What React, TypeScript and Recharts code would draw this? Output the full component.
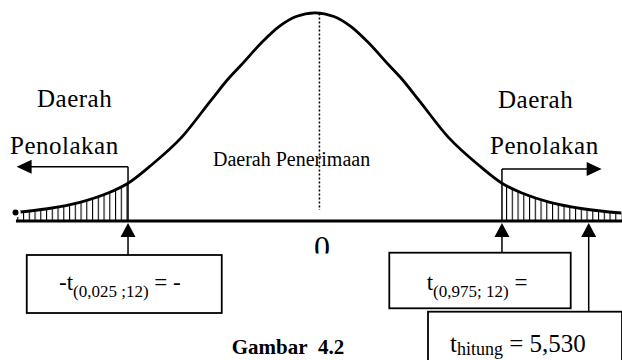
import React from 'react'
import { ComposedChart, Line, Area, XAxis, YAxis, ReferenceLine, ReferenceDot } from 'recharts'

// t position (0 = centre) and curve height
const tValues = [
  -3.49, -3.12, -2.74, -2.42, -2.179, -1.93, -1.55, -1.21, -1.0, -0.86, -0.61, -0.42, -0.22, 0,
  0.22, 0.42, 0.61, 0.86, 1.0, 1.21, 1.55, 1.93, 2.179, 2.42, 2.74, 3.12, 3.57,
]
const density = [
  0.016, 0.023, 0.035, 0.052, 0.071, 0.102, 0.158, 0.227, 0.269, 0.293, 0.337, 0.365, 0.384, 0.391,
  0.384, 0.365, 0.337, 0.293, 0.269, 0.227, 0.158, 0.102, 0.071, 0.052, 0.035, 0.023, 0.015,
]

const tCritical = [-2.179, 2.179] // -t(0,025;12) and t(0,975;12)
const tHitungMark = 3.19 // where the figure draws t hitung (not to scale)
const centreMark = 0.052
const axisEnds = [-3.485, 3.578]

const X_DOMAIN: [number, number] = [-3.671, 3.578]
const Y_DOMAIN: [number, number] = [-0.261, 0.415]

const rows = tValues.map((t, i) => ({
  t,
  density: density[i],
  tail: Math.abs(t) >= tCritical[1] ? density[i] : null,
}))

const serif = '"Liberation Serif", "Times New Roman", Times, serif'

type Dir = 'up' | 'left' | 'right'
const arrowHead = (dir: Dir) => (p: any) => {
  const { cx, cy } = p
  let d = ''
  if (dir === 'up') d = `M${cx},${cy} L${cx - 7.5},${cy + 14} L${cx + 7.5},${cy + 14} Z`
  if (dir === 'left') d = `M${cx},${cy} L${cx + 15},${cy - 7} L${cx + 15},${cy + 7} Z`
  if (dir === 'right') d = `M${cx},${cy} L${cx - 15},${cy - 7} L${cx - 15},${cy + 7} Z`
  return <path d={d} fill="#000" stroke="none" />
}

function Labels() {
  const sub = { fontSize: 17 }
  return (
    <svg
      width={622}
      height={360}
      style={{
        position: 'absolute',
        left: 0,
        top: 0,
        pointerEvents: 'none',
        whiteSpace: 'pre',
        fontFamily: serif,
      }}
      fill="#000"
    >
      <defs>
        <clipPath id="zeroClip">
          <rect x={300} y={228} width={40} height={25.5} />
        </clipPath>
      </defs>
      <text x={37} y={107} fontSize={25} letterSpacing={0.5}>Daerah</text>
      <text x={10} y={154} fontSize={25} letterSpacing={0.5}>Penolakan</text>
      <text x={498} y={108} fontSize={25} letterSpacing={0.5}>Daerah</text>
      <text x={490} y={154} fontSize={25} letterSpacing={0.5}>Penolakan</text>
      <text x={213} y={166} fontSize={20}>Daerah Penerimaan</text>
      <text x={314} y={258} fontSize={32} clipPath="url(#zeroClip)">0</text>

      <rect x={26.75} y={255} width={195} height={58} fill="#fff" stroke="#000" strokeWidth={1.8} />
      <text x={59} y={290} fontSize={23}>
        -t<tspan {...sub} dy={6.7}>(0,025 ;12)</tspan>
        <tspan dy={-6.7}> = -</tspan>
      </text>

      <rect x={389.3} y={252.7} width={181.4} height={55.6} fill="#fff" stroke="#000" strokeWidth={1.8} />
      <text x={426.7} y={290} fontSize={23}>
        t<tspan {...sub} dy={6.7}>(0,975; 12)</tspan>
        <tspan dy={-6.7}> =</tspan>
      </text>

      <rect x={428} y={311.7} width={194} height={60} fill="#fff" stroke="#000" strokeWidth={1.8} />
      <text x={450} y={352} fontSize={25}>
        t<tspan fontSize={18} dy={3}>hitung</tspan>
        <tspan dy={-3}> = 5,530</tspan>
      </text>

      <text x={231.7} y={354} fontSize={21} fontWeight="bold">{'Gambar\u00A0 4.2'}</text>
    </svg>
  )
}

export default function App() {
  const [lo, hi] = tCritical
  return (
    <div style={{ position: 'absolute', left: 0, top: 0, width: 622, height: 360, background: '#fff' }}>
      <ComposedChart width={622} height={360} data={rows} margin={{ top: 0, right: 0, bottom: 0, left: 0 }}>
        <defs>
          <pattern id="hatch" patternUnits="userSpaceOnUse" width={5.75} height={8}>
            <rect x={0} y={0} width={1.1} height={8} fill="#000" />
          </pattern>
        </defs>
        <XAxis dataKey="t" type="number" domain={X_DOMAIN} allowDataOverflow hide />
        <YAxis type="number" domain={Y_DOMAIN} allowDataOverflow hide />

        <Area
          dataKey="tail"
          type="monotone"
          baseValue={0}
          fill="url(#hatch)"
          fillOpacity={1}
          stroke="none"
          connectNulls={false}
          isAnimationActive={false}
        />
        <Line
          dataKey="density"
          type="monotone"
          stroke="#000"
          strokeWidth={2.8}
          dot={false}
          isAnimationActive={false}
        />

        {/* axis */}
        <ReferenceLine segment={[{ x: axisEnds[0], y: 0 }, { x: axisEnds[1], y: 0 }]} stroke="#000" strokeWidth={3} />
        {/* centre */}
        <ReferenceLine
          segment={[{ x: centreMark, y: 0.3897 }, { x: centreMark, y: 0.0206 }]}
          stroke="#000"
          strokeWidth={1.5}
          strokeDasharray="2 2"
        />

        {/* rejection region markers */}
        <ReferenceLine segment={[{ x: lo, y: 0 }, { x: lo, y: 0.1019 }]} stroke="#000" strokeWidth={1.5} />
        <ReferenceLine segment={[{ x: lo, y: 0.1019 }, { x: -3.322, y: 0.1019 }]} stroke="#000" strokeWidth={1.5} />
        <ReferenceDot x={-3.477} y={0.1019} shape={arrowHead('left')} />

        <ReferenceLine segment={[{ x: hi, y: 0 }, { x: hi, y: 0.0976 }]} stroke="#000" strokeWidth={1.5} />
        <ReferenceLine segment={[{ x: hi, y: 0.0976 }, { x: 3.182, y: 0.0976 }]} stroke="#000" strokeWidth={1.5} />
        <ReferenceDot x={3.341} y={0.0976} shape={arrowHead('right')} />

        {/* pointers from the boxes */}
        <ReferenceLine segment={[{ x: lo, y: -0.0639 }, { x: lo, y: -0.025 }]} stroke="#000" strokeWidth={1.5} />
        <ReferenceDot x={lo} y={-0.0038} shape={arrowHead('up')} />
        <ReferenceLine segment={[{ x: hi, y: -0.0596 }, { x: hi, y: -0.025 }]} stroke="#000" strokeWidth={1.5} />
        <ReferenceDot x={hi} y={-0.0038} shape={arrowHead('up')} />
        <ReferenceLine
          segment={[{ x: tHitungMark, y: -0.1704 }, { x: tHitungMark, y: -0.025 }]}
          stroke="#000"
          strokeWidth={1.5}
        />
        <ReferenceDot x={tHitungMark} y={-0.0038} shape={arrowHead('up')} />
      </ComposedChart>
      <Labels />
    </div>
  )
}
